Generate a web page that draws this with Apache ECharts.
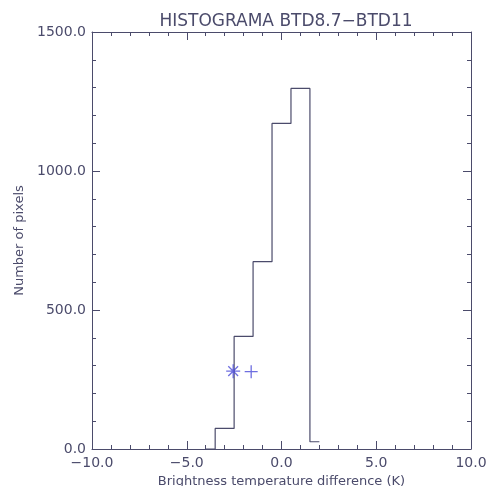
<!DOCTYPE html>
<html>
<head>
<meta charset="utf-8">
<script src="https://cdn.jsdelivr.net/npm/echarts@6/dist/echarts.min.js"></script>
<style>
    html, body { margin: 0; padding: 0; background: #fff; }
    #chart { width: 489px; height: 486px; }
</style>
</head>
<body>
<div id="chart"></div>
<script>
// bin centres (K) and pixel counts
const binCentres = [-4, -3, -2, -1, 0, 1, 2];
const pixelCounts = [0, 74, 405, 674, 1171, 1297, 26];
// the two blue markers
const starPoint = [-2.55, 280];
const plusPoint = [-1.6, 278];
const xTicks = [-10, -5, 0, 5, 10];
const yTicks = [0, 500, 1000, 1500];

const ink = '#4b4b6b';
const markerBlue = '#4a4ad8';
const font = 'DejaVu Sans';

const fmt = v => v.toFixed(1).replace('-', '\u2212');

const chart = echarts.init(document.getElementById('chart'), null, {renderer: 'canvas'});

// IDL style box: every side has a line and inward ticks, labels only bottom/left
function boxAxis(position, min, max, interval, labelMargin) {
    return {
        type: 'value',
        min: min,
        max: max,
        interval: interval,
        position: position,
        axisLine: {show: true, onZero: false, lineStyle: {color: ink, width: 1}},
        axisTick: {inside: true, length: 8, lineStyle: {color: ink}},
        minorTick: {show: true, splitNumber: 5, length: 4, lineStyle: {color: ink}},
        splitLine: {show: false},
        axisLabel: labelMargin
            ? {formatter: fmt, color: ink, fontFamily: font, fontSize: 14, margin: labelMargin}
            : {show: false}
    };
}

const xBottom = boxAxis('bottom', xTicks[0], xTicks[xTicks.length - 1], 5, 7);
xBottom.name = 'Brightness temperature difference (K)';
xBottom.nameLocation = 'middle';
xBottom.nameGap = 20;
xBottom.nameTextStyle = {color: ink, fontFamily: font, fontSize: 13, verticalAlign: 'top', lineHeight: 14};

const yLeft = boxAxis('left', yTicks[0], yTicks[yTicks.length - 1], 500, 6);
yLeft.name = 'Number of pixels';
yLeft.nameLocation = 'middle';
yLeft.nameGap = 66;
yLeft.nameTextStyle = {color: ink, fontFamily: font, fontSize: 13};

chart.setOption({
    animation: false,
    title: {
        text: 'HISTOGRAMA BTD8.7\u2212BTD11',
        left: 281,
        textAlign: 'center',
        top: 8,
        textStyle: {fontFamily: font, fontSize: 17, fontWeight: 'normal', color: ink}
    },
    grid: {left: 92, right: 18, top: 32, bottom: 37, outerBoundsMode: 'none', containLabel: false},
    xAxis: [xBottom, boxAxis('top', xTicks[0], xTicks[xTicks.length - 1], 5, 0)],
    yAxis: [yLeft, boxAxis('right', yTicks[0], yTicks[yTicks.length - 1], 500, 0)],
    series: [{
        type: 'line',
        step: 'middle',
        data: binCentres.map((x, i) => [x, pixelCounts[i]]),
        showSymbol: false,
        lineStyle: {color: ink, width: 1.2},
        z: 2
    }, {
        type: 'scatter',
        data: [starPoint],
        symbol: 'path://M0,-10L0,10M-10,0L10,0M-7,-7L7,7M-7,7L7,-7',
        symbolSize: 14,
        itemStyle: {color: 'transparent', borderColor: markerBlue, borderWidth: 1.3},
        z: 3
    }, {
        type: 'scatter',
        data: [plusPoint],
        symbol: 'path://M0,-10L0,10M-10,0L10,0',
        symbolSize: 13,
        itemStyle: {color: 'transparent', borderColor: markerBlue, borderWidth: 1.3},
        z: 3
    }]
});
</script>
</body>
</html>
